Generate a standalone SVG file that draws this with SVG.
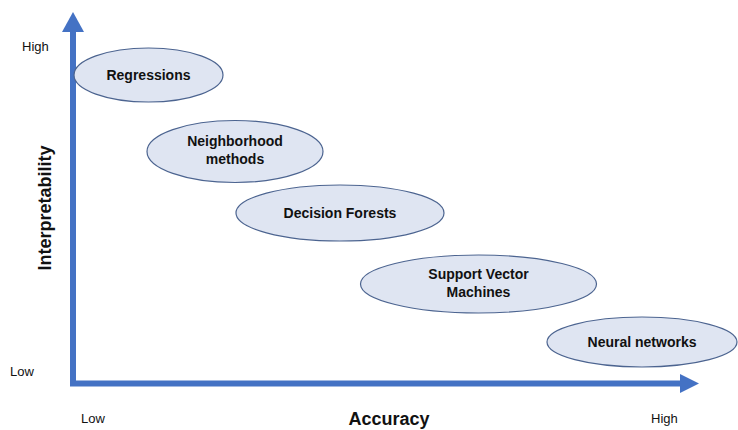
<svg xmlns="http://www.w3.org/2000/svg" width="738" height="430" viewBox="0 0 738 430">
<style>
.node ellipse{fill:#dfe5f2;stroke:#4c6490;stroke-width:1.2}
.lbl{font-family:"Liberation Sans",Arial,sans-serif;font-weight:bold;font-size:14px;fill:#111;text-anchor:middle}
.tick{font-family:"Liberation Sans",Arial,sans-serif;font-size:13px;fill:#111}
.axt{font-family:"Liberation Sans",Arial,sans-serif;font-weight:bold;font-size:18px;fill:#111;text-anchor:middle}
</style>
<rect width="738" height="430" fill="#fff"/>
<g id="connectors">
<path d="M73 383.5 V30" stroke="#4472c4" stroke-width="6" fill="none"/>
<polygon points="73,12 62,32 84,32" fill="#4472c4"/>
<path d="M70 383.5 H681" stroke="#4472c4" stroke-width="6" fill="none"/>
<polygon points="699,383.5 680,374 680,393" fill="#4472c4"/>
</g>
<g id="regressions" class="node"><ellipse cx="148.5" cy="75" rx="74.5" ry="27"/><text class="lbl" x="148.5" y="80">Regressions</text></g>
<g id="neighborhood" class="node"><ellipse cx="235" cy="151.5" rx="88" ry="31"/><text class="lbl" x="235" y="146">Neighborhood</text><text class="lbl" x="235" y="164">methods</text></g>
<g id="forests" class="node"><ellipse cx="340" cy="213" rx="104" ry="28"/><text class="lbl" x="340" y="218">Decision Forests</text></g>
<g id="svm" class="node"><ellipse cx="478.5" cy="284" rx="118" ry="29"/><text class="lbl" x="478.5" y="279">Support Vector</text><text class="lbl" x="478.5" y="297">Machines</text></g>
<g id="nn" class="node"><ellipse cx="642" cy="342" rx="95" ry="25"/><text class="lbl" x="642" y="347">Neural networks</text></g>
<text class="tick" x="22" y="51">High</text>
<text class="tick" x="10" y="376">Low</text>
<text class="tick" x="81" y="423">Low</text>
<text class="tick" x="651" y="423">High</text>
<text class="axt" x="389" y="425">Accuracy</text>
<text class="axt" transform="translate(51,208) rotate(-90)">Interpretability</text>
</svg>
